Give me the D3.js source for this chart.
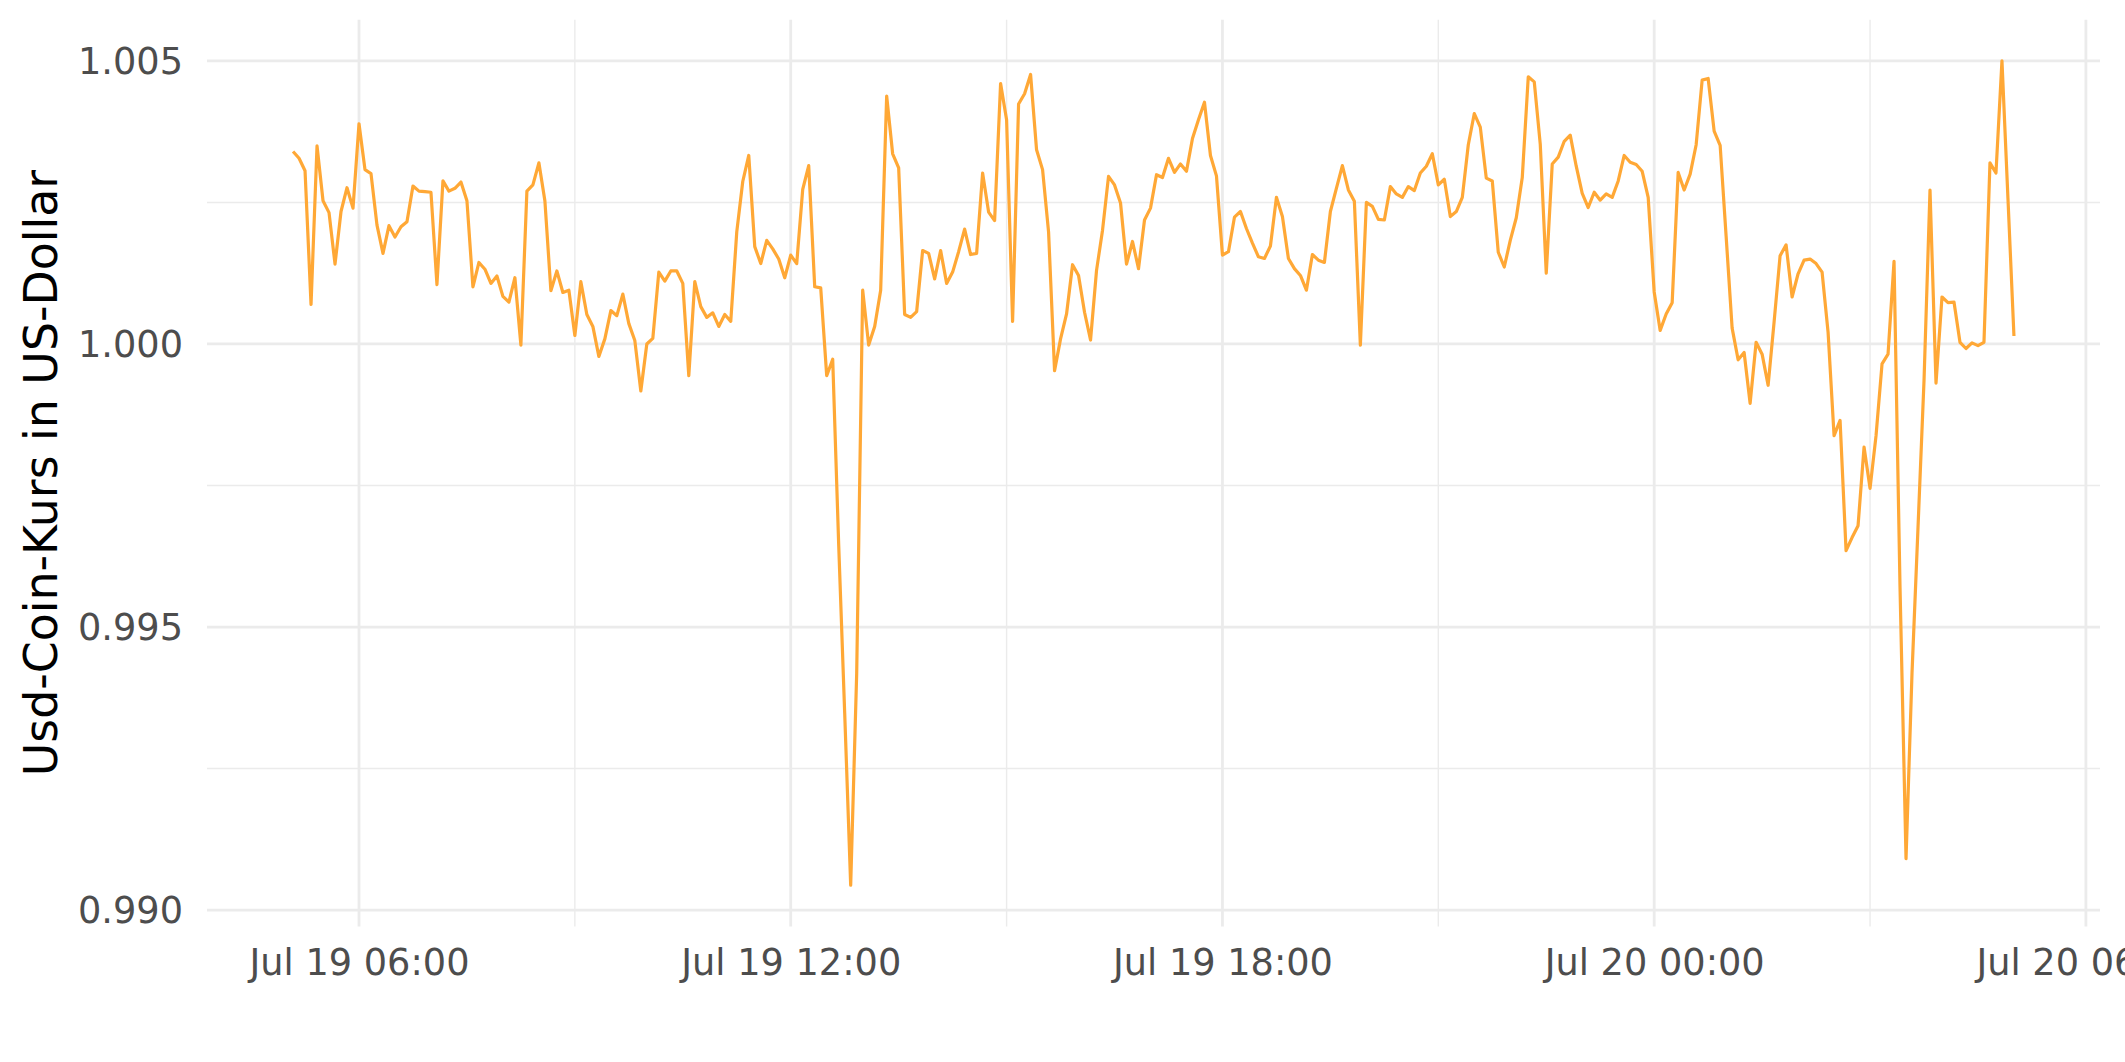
<!DOCTYPE html>
<html>
<head>
<meta charset="utf-8">
<script src="https://cdn.jsdelivr.net/npm/d3@7"></script>
<style>
  html, body { margin: 0; padding: 0; background: #ffffff; }
  svg { display: block; }
</style>
</head>
<body>
<svg id="chart" width="2125" height="1062"></svg>
<script>
// ---- Data ----
const startTime = "2022-07-19T05:05:00";   // first observation
const intervalMinutes = 5;                  // spacing between observations
const rate = [
  1.00340, 1.00328, 1.00306, 1.00070, 1.00350, 1.00253, 1.00232, 1.00141, 1.00234, 1.00276,
  1.00240, 1.00389, 1.00308, 1.00301, 1.00210, 1.00160, 1.00209, 1.00189, 1.00207, 1.00216,
  1.00279, 1.00270, 1.00269, 1.00268, 1.00105, 1.00288, 1.00270, 1.00275, 1.00286, 1.00253,
  1.00101, 1.00144, 1.00132, 1.00107, 1.00120, 1.00084, 1.00074, 1.00117, 0.99998, 1.00270,
  1.00281, 1.00320, 1.00253, 1.00094, 1.00129, 1.00091, 1.00095, 1.00015, 1.00110, 1.00052,
  1.00031, 0.99978, 1.00009, 1.00059, 1.00050, 1.00088, 1.00036, 1.00006, 0.99917, 1.00000,
  1.00010, 1.00127, 1.00111, 1.00129, 1.00129, 1.00107, 0.99944, 1.00110, 1.00066, 1.00047,
  1.00055, 1.00031, 1.00052, 1.00040, 1.00198, 1.00287, 1.00333, 1.00172, 1.00142, 1.00183,
  1.00168, 1.00150, 1.00117, 1.00157, 1.00142, 1.00273, 1.00315, 1.00101, 1.00099, 0.99944,
  0.99973, 0.99645, 0.99348, 0.99044, 0.99418, 1.00095, 0.99998, 1.00031, 1.00095, 1.00438,
  1.00336, 1.00311, 1.00052, 1.00047, 1.00057, 1.00165, 1.00160, 1.00115, 1.00165, 1.00107,
  1.00127, 1.00163, 1.00203, 1.00158, 1.00160, 1.00302, 1.00233, 1.00218, 1.00460, 1.00396,
  1.00040, 1.00424, 1.00442, 1.00476, 1.00343, 1.00308, 1.00198, 0.99953, 1.00009, 1.00053,
  1.00140, 1.00121, 1.00056, 1.00007, 1.00130, 1.00201, 1.00296, 1.00281, 1.00249, 1.00141,
  1.00181, 1.00133, 1.00219, 1.00240, 1.00299, 1.00294, 1.00328, 1.00303, 1.00318, 1.00305,
  1.00363, 1.00396, 1.00427, 1.00333, 1.00297, 1.00157, 1.00163, 1.00224, 1.00234, 1.00204,
  1.00178, 1.00154, 1.00151, 1.00173, 1.00259, 1.00225, 1.00151, 1.00133, 1.00121, 1.00095,
  1.00158, 1.00148, 1.00144, 1.00234, 1.00275, 1.00315, 1.00272, 1.00252, 0.99998, 1.00250,
  1.00243, 1.00220, 1.00219, 1.00278, 1.00265, 1.00259, 1.00278, 1.00271, 1.00302, 1.00314,
  1.00336, 1.00281, 1.00291, 1.00225, 1.00234, 1.00259, 1.00352, 1.00407, 1.00383, 1.00293,
  1.00288, 1.00162, 1.00136, 1.00183, 1.00223, 1.00294, 1.00472, 1.00463, 1.00353, 1.00125,
  1.00318, 1.00330, 1.00358, 1.00369, 1.00314, 1.00266, 1.00241, 1.00268, 1.00254, 1.00265,
  1.00259, 1.00288, 1.00333, 1.00321, 1.00317, 1.00305, 1.00259, 1.00092, 1.00024, 1.00053,
  1.00073, 1.00303, 1.00272, 1.00300, 1.00352, 1.00466, 1.00469, 1.00376, 1.00351, 1.00190,
  1.00028, 0.99972, 0.99985, 0.99895, 1.00003, 0.99982, 0.99927, 1.00039, 1.00156, 1.00175,
  1.00083, 1.00124, 1.00148, 1.00150, 1.00142, 1.00127, 1.00021, 0.99838, 0.99865, 0.99635,
  0.99658, 0.99679, 0.99818, 0.99745, 0.99838, 0.99965, 0.99982, 1.00146, 0.99570, 0.99091,
  0.99419, 0.99676, 0.99935, 1.00272, 0.99931, 1.00083, 1.00073, 1.00074, 1.00003, 0.99992,
  1.00002, 0.99997, 1.00003, 1.00320, 1.00302, 1.00500, 1.00257, 1.00014
];
const yTicks = [0.990, 0.995, 1.000, 1.005];
const yMinorTicks = [0.9925, 0.9975, 1.0025];
const xTickHours = 6;        // major x ticks every 6 hours
const xMinorOffsetHours = 3; // minor grid halfway between
const yTitle = "Usd-Coin-Kurs in US-Dollar";
const tickFormat = "%b %d %H:%M";

// ---- Build series ----
const t0 = d3.timeParse("%Y-%m-%dT%H:%M:%S")(startTime);
const series = rate.map((v, i) => ({ t: d3.timeMinute.offset(t0, i * intervalMinutes), v }));

// ---- Layout ----
const W = 2125, H = 1062;
const panel = { left: 207, right: 2100, top: 19.7, bottom: 926.4 };

const tExt = d3.extent(series, d => d.t);
const tPad = (tExt[1] - tExt[0]) * 0.05;
const x = d3.scaleTime()
  .domain([new Date(+tExt[0] - tPad), new Date(+tExt[1] + tPad)])
  .range([panel.left, panel.right]);

const vExt = d3.extent(series, d => d.v);
const vPad = (vExt[1] - vExt[0]) * 0.05;
const y = d3.scaleLinear()
  .domain([vExt[0] - vPad, vExt[1] + vPad])
  .range([panel.bottom, panel.top]);

const svg = d3.select("#chart");
svg.append("rect").attr("width", W).attr("height", H).attr("fill", "#ffffff");

const grid = svg.append("g");
const gridColor = "#EBEBEB";

// minor grid
const minorX = d3.timeHour.every(3).range(x.domain()[0], x.domain()[1])
  .filter(d => d.getHours() % xTickHours === xMinorOffsetHours);
grid.selectAll("line.hminor").data(yMinorTicks).join("line")
  .attr("x1", panel.left).attr("x2", panel.right)
  .attr("y1", d => y(d)).attr("y2", d => y(d))
  .attr("stroke", gridColor).attr("stroke-width", 1.4);
grid.selectAll("line.vminor").data(minorX).join("line")
  .attr("y1", panel.top).attr("y2", panel.bottom)
  .attr("x1", d => x(d)).attr("x2", d => x(d))
  .attr("stroke", gridColor).attr("stroke-width", 1.4);

// major grid
const majorX = x.ticks(d3.timeHour.every(xTickHours));
grid.selectAll("line.hmajor").data(yTicks).join("line")
  .attr("x1", panel.left).attr("x2", panel.right)
  .attr("y1", d => y(d)).attr("y2", d => y(d))
  .attr("stroke", gridColor).attr("stroke-width", 2.8);
grid.selectAll("line.vmajor").data(majorX).join("line")
  .attr("y1", panel.top).attr("y2", panel.bottom)
  .attr("x1", d => x(d)).attr("x2", d => x(d))
  .attr("stroke", gridColor).attr("stroke-width", 2.8);

// line
const line = d3.line().x(d => x(d.t)).y(d => y(d.v));
svg.append("path").datum(series)
  .attr("d", line)
  .attr("fill", "none")
  .attr("stroke", "#FFA836")
  .attr("stroke-width", 3.2)
  .attr("stroke-linejoin", "round");

// y axis labels
const font = "'DejaVu Sans', sans-serif";
const yAxis = d3.axisLeft(y).tickValues(yTicks).tickFormat(d3.format(".3f")).tickSize(0).tickPadding(0);
const gy = svg.append("g").attr("transform", `translate(${183},0)`).call(yAxis);
gy.select(".domain").remove();
gy.selectAll("text")
  .attr("font-family", font).attr("font-size", 36.7).attr("fill", "#4D4D4D")
  .attr("dy", "0.35em").attr("x", 0);

// x axis labels
const xAxis = d3.axisBottom(x).tickValues(majorX).tickFormat(d3.timeFormat(tickFormat)).tickSize(0).tickPadding(0);
const gx = svg.append("g").attr("transform", `translate(0,${948})`).call(xAxis);
gx.select(".domain").remove();
gx.selectAll("text")
  .attr("font-family", font).attr("font-size", 36.7).attr("fill", "#4D4D4D")
  .attr("dy", "0.73em").attr("y", 0);

// y title
svg.append("text")
  .attr("transform", `translate(57,${(panel.top + panel.bottom) / 2}) rotate(-90)`)
  .attr("text-anchor", "middle")
  .attr("font-family", font).attr("font-size", 45.8).attr("fill", "#000000")
  .text(yTitle);
</script>
</body>
</html>
